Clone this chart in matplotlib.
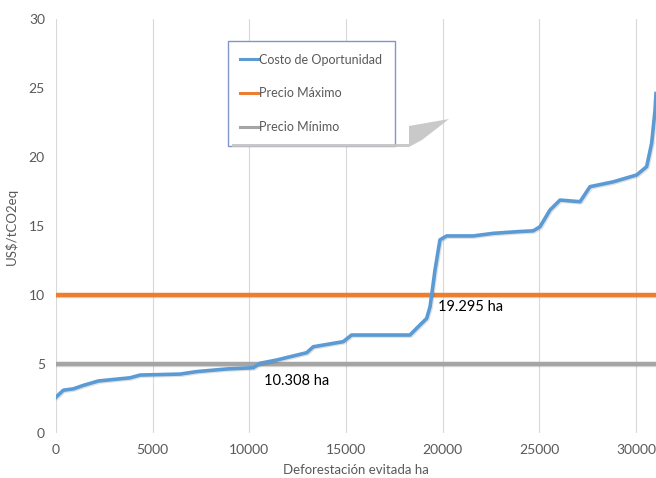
import matplotlib
matplotlib.use("Agg")
import matplotlib.pyplot as plt
import matplotlib.patheffects as pe
from matplotlib.patches import Polygon

# Datos
defo_ha = [0, 380, 900, 1410, 2190, 3830, 4350, 6420, 7280, 8830, 10210, 10550,
           11420, 12970, 13310, 14860, 15290, 18310, 18830, 19175, 19350, 19435,
           19606, 19780, 19865, 20210, 21590, 22620, 24000, 24690, 25040, 25555,
           26075, 27110, 27625, 28830, 30040, 30555, 30815, 30990, 31040]
costo = [2.6, 3.1, 3.2, 3.45, 3.77, 4.0, 4.2, 4.27, 4.45, 4.64, 4.73, 5.05,
         5.29, 5.82, 6.25, 6.62, 7.1, 7.1, 7.83, 8.3, 9.15, 10.0,
         11.8, 13.3, 14.0, 14.28, 14.28, 14.47, 14.6, 14.65, 14.95, 16.16,
         16.88, 16.76, 17.85, 18.2, 18.7, 19.3, 21.0, 23.4, 24.6]
precio_max = 10
precio_min = 5
xticks = [0, 5000, 10000, 15000, 20000, 25000, 30000]
yticks = [0, 5, 10, 15, 20, 25, 30]

plt.rcParams['font.family'] = ['Lato', 'DejaVu Sans']

fig = plt.figure(figsize=(6.56, 4.78), dpi=100)
ax = fig.add_axes([56 / 656, 1 - 433 / 478, 1 - 56 / 656, (433 - 19) / 478])

sombra = [pe.SimpleLineShadow(offset=(0.8, -0.8), alpha=0.12), pe.Normal()]

ax.axhline(precio_max, color="#ED7D31", linewidth=3.2, path_effects=sombra, zorder=3,
           label="Precio Máximo")
ax.axhline(precio_min, color="#A5A5A5", linewidth=3.2, path_effects=sombra, zorder=3,
           label="Precio Mínimo")
ax.plot(defo_ha, costo, color="#5B9BD5", linewidth=2.6, path_effects=sombra, zorder=4,
        label="Costo de Oportunidad")

ax.set_xlim(0, 31040)
ax.set_ylim(0, 30)
ax.set_xticks(xticks)
ax.set_yticks(yticks)
ax.grid(axis="x", color="#D9D9D9", linewidth=0.8)
ax.grid(axis="y", visible=False)
for s in ax.spines.values():
    s.set_visible(False)
ax.tick_params(length=0, labelsize=10, labelcolor="#595959", pad=8)
ax.set_xlabel("Deforestación evitada ha", fontsize=9.5, color="#595959", labelpad=6)
ax.set_ylabel("US$/tCO2eq", fontsize=9.5, color="#595959", labelpad=8)

ax.text(10760, 3.77, "10.308 ha", fontsize=10.5, va="center", ha="left", color="#000000")
ax.text(19760, 9.13, "19.295 ha", fontsize=10.5, va="center", ha="left", color="#000000")

# sombra de la leyenda
W, H = 656.0, 478.0
pts = [(409, 126), (449, 119), (422, 140), (409, 147), (232, 147), (232, 144), (409, 144)]
fig.patches.append(Polygon([(x / W, 1 - y / H) for x, y in pts], closed=True,
                           transform=fig.transFigure, facecolor="#C4C4C4",
                           edgecolor="none", alpha=0.9, zorder=5))

h, l = ax.get_legend_handles_labels()
orden = [2, 0, 1]
leg = ax.legend([h[i] for i in orden], [l[i] for i in orden],
                loc="upper left", bbox_to_anchor=(228 / W, 1 - 41 / H),
                bbox_transform=fig.transFigure, fontsize=9, frameon=True,
                fancybox=False, framealpha=1.0, handlelength=1.5, handletextpad=0.0,
                labelspacing=1.75, borderpad=1.0, borderaxespad=0,
                labelcolor="#595959")
leg.get_frame().set_edgecolor("#8095C8")
leg.get_frame().set_linewidth(1.0)
leg.set_zorder(10)
for ln in leg.get_lines():
    ln.set_linewidth(2.2)
    ln.set_path_effects([])

fig.savefig("out.png", dpi=100)
